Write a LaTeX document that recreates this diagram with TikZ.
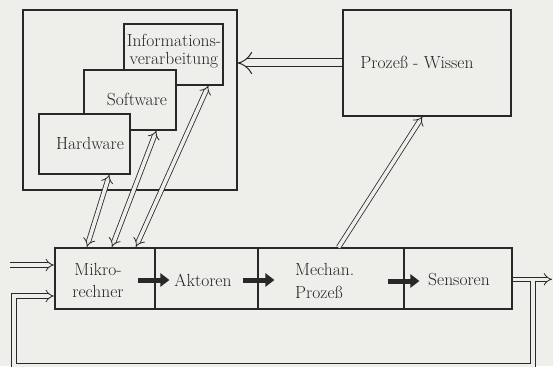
\documentclass[tikz,border=0pt]{standalone}
\usepackage{fontspec}
\usetikzlibrary{arrows.meta,calc}
\definecolor{bg}{RGB}{238,238,235}
\definecolor{ink}{RGB}{40,40,40}
\begin{document}
\begin{tikzpicture}[x=1pt,y=-1pt,
  box/.style={draw=ink, line width=1.1pt, fill=bg, inner sep=0pt},
  lbl/.style={font=\fontsize{17.5}{18}\selectfont, text=ink!90!black, align=center, inner sep=0pt},
  dbl/.style={draw=ink, line width=0.8pt, double=bg, double distance=3.6pt},
  dblw/.style={draw=ink, line width=1pt, double=bg, double distance=7pt},
  fat/.style={draw=ink, line width=5pt, -{Triangle[length=9pt,width=13pt]}}]
\fill[bg] (0,0) rectangle (553,366);
\useasboundingbox (0,0) rectangle (553,366);

% upper left group
\node[box, minimum width=214pt, minimum height=180pt] (outer) at (130,100) {};
\node[box, minimum width=99pt, minimum height=61pt] (info) at (173.5,54.5) {};
\node[box, minimum width=92pt, minimum height=60pt] (sw) at (130,100) {};
\node[box, minimum width=91pt, minimum height=60pt] (hw) at (84.5,144) {};
\node[lbl] (infot) at (174,51) {Informations-\\verarbeitung};
\node[lbl] (swt) at (137,99) {Software};
\node[lbl] (hwt) at (90,143) {Hardware};

% process knowledge
\node[box, minimum width=168pt, minimum height=106pt] (pw) at (427,63) {};
\node[lbl] (pwt) at (417,62) {Prozeß - Wissen};

% bottom row
\node[box, minimum width=103pt, minimum height=61pt] (akt) at (206.5,278.5) {};
\node[box, minimum width=146pt, minimum height=61pt] (mech) at (331,278.5) {};
\node[box, minimum width=108pt, minimum height=61pt] (sen) at (458,278.5) {};
\node[box, line width=2.2pt, minimum width=100pt, minimum height=61pt] (mik) at (105,278.5) {};
\node[lbl, font=\fontsize{17.5}{22}\selectfont] (mikt) at (98,280) {Mikro-\\rechner};
\node[lbl] (aktt) at (203,280) {Aktoren};
\node[lbl, font=\fontsize{17.5}{23}\selectfont, align=left, anchor=west] (mecht) at (295,281) {Mechan.\\Prozeß};
\node[lbl] (sent) at (459,280) {Sensoren};

% thick arrows
\draw[fat] ($(mik.east)+(-18,1.5)$) -- ($(akt.west)+(15,1.5)$);
\draw[fat] ($(akt.east)+(-16,1.5)$) -- ($(mech.west)+(17,1.5)$);
\draw[fat] ($(mech.east)+(-17,2.5)$) -- ($(sen.west)+(16,2.5)$);

% double arrows to knowledge boxes
\draw[dbl, {Implies[scale=1.5]}-{Implies[scale=1.5]}] ($(mik.north west)+(33,0)$) -- ($(hw.south west)+(71,0)$);
\draw[dbl, {Implies[scale=1.5]}-{Implies[scale=1.5]}] ($(mik.north west)+(58,0)$) -- ($(sw.south west)+(73,0)$);
\draw[dbl, {Implies[scale=1.5]}-{Implies[scale=1.5]}] ($(mik.north west)+(82,0)$) -- ($(info.south west)+(85,0)$);
\draw[dbl, -{Implies[scale=1.5]}] ($(mech.north west)+(81,0)$) -- ($(pw.south west)+(80,0)$);
\draw[dblw, -{Implies[scale=1.3]}] (pw.west) -- (pw.west -| outer.east);

% input, output, feedback
\coordinate (in) at (10,265);
\coordinate (out) at (552,279.3);
\coordinate (fbt) at (533,280.6);
\coordinate (fbr) at (533,365.5);
\coordinate (fbb) at (14,365.5);
\coordinate (fbl) at (14,296);
\draw[dbl, -{Implies[scale=1.3]}] (in) -- (in -| mik.west);
\draw[dbl, -{Implies[scale=1.3]}] (sen.east |- out) -- (out);
\draw[dbl, -{Implies[scale=1.3]}] (fbt) -- (fbr) -- (fbb) -- (fbl) -- (fbl -| mik.west);
\end{tikzpicture}
\end{document}
